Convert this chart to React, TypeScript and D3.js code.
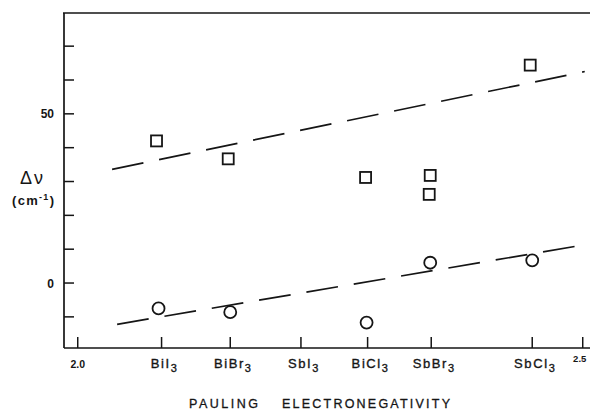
import { useEffect, useRef } from 'react';
import * as d3 from 'd3';

// compounds on the x axis (Pauling electronegativity)
const compounds = ['BiI', 'BiBr', 'SbI', 'BiCl', 'SbBr', 'SbCl'];
const compoundEN = [2.083, 2.151, 2.221, 2.287, 2.35, 2.45];
const numTicks = [2.0, 2.5];
const yTicks = [-10, 0, 10, 20, 30, 40, 50, 60, 70];
const yLabelled = [50, 0];

// squares (upper set)
const squareX = [2.078, 2.149, 2.285, 2.349, 2.348, 2.448];
const squareY = [42.0, 36.7, 31.2, 31.8, 26.2, 64.4];
// circles (lower set)
const circleX = [2.08, 2.151, 2.286, 2.349, 2.45];
const circleY = [-7.5, -8.6, -11.7, 6.0, 6.7];

// dashed fit lines: [x, y] ends
const upperFit: [number, number][] = [[2.034, 33.6], [2.502, 62.5]];
const lowerFit: [number, number][] = [[2.039, -12.2], [2.504, 11.4]];

export default function App() {
    const svgRef = useRef<SVGSVGElement>(null);

    useEffect(() => {
        if (!svgRef.current) return;
        const W = 590;
        const left = 64, right = 590, top = 13, bottom = 348;
        const ink = '#151515';
        const font = '"Liberation Sans", Arial, Helvetica, sans-serif';

        const svg = d3.select(svgRef.current);
        svg.selectAll('*').remove();

        const x = d3.scaleLinear().domain([1.9864, 2.5072]).range([left, right]);
        const y = d3.scaleLinear().domain([-19.2, 79.8]).range([bottom, top]);

        // frame: left axis, top border, bottom axis
        svg.append('line').attr('x1', left).attr('x2', left).attr('y1', top).attr('y2', bottom)
            .attr('stroke', ink).attr('stroke-width', 1.7);
        svg.append('line').attr('x1', left - 1).attr('x2', W).attr('y1', top).attr('y2', top)
            .attr('stroke', ink).attr('stroke-width', 1.7);
        svg.append('line').attr('x1', left).attr('x2', W).attr('y1', bottom).attr('y2', bottom)
            .attr('stroke', ink).attr('stroke-width', 1.7);

        // y ticks (inward)
        svg.selectAll('.ytick').data(yTicks).join('line')
            .attr('class', 'ytick')
            .attr('x1', left).attr('x2', left + 10)
            .attr('y1', d => y(d)).attr('y2', d => y(d))
            .attr('stroke', ink).attr('stroke-width', 1.5);
        svg.selectAll('.ylbl').data(yLabelled).join('text')
            .attr('class', 'ylbl')
            .attr('x', left - 10).attr('y', d => y(d) + 4.5)
            .attr('text-anchor', 'end').attr('font-size', 12).attr('font-weight', 'bold')
            .attr('font-family', font).attr('fill', ink)
            .text(d => d);

        // x ticks (inward)
        const allX = [...numTicks, ...compoundEN];
        svg.selectAll('.xtick').data(allX).join('line')
            .attr('class', 'xtick')
            .attr('x1', d => x(d)).attr('x2', d => x(d))
            .attr('y1', bottom).attr('y2', bottom - 11)
            .attr('stroke', ink).attr('stroke-width', 1.5);

        // compound labels with subscript 3
        const cl = svg.selectAll('.clbl').data(compounds).join('text')
            .attr('class', 'clbl')
            .attr('x', (_, i) => x(compoundEN[i]) + 3).attr('y', 368)
            .attr('text-anchor', 'middle').attr('font-size', 13).attr('letter-spacing', 1.6)
            .attr('font-family', font).attr('fill', ink)
            .attr('stroke', ink).attr('stroke-width', 0.35);
        cl.append('tspan').text(d => d);
        cl.append('tspan').attr('dy', 4).attr('font-size', 11).text('3');

        svg.append('text').attr('x', x(2.0)).attr('y', 368)
            .attr('text-anchor', 'middle').attr('font-size', 10.5).attr('font-weight', 'bold')
            .attr('font-family', font).attr('fill', ink).text('2.0');
        svg.append('text').attr('x', x(2.5) - 3).attr('y', 362)
            .attr('text-anchor', 'middle').attr('font-size', 9.5).attr('font-weight', 'bold')
            .attr('font-family', font).attr('fill', ink).text('2.5');

        // axis titles
        svg.append('text').attr('x', 189).attr('y', 408)
            .attr('font-size', 12.5).attr('font-family', font).attr('fill', ink)
            .attr('stroke', ink).attr('stroke-width', 0.3)
            .attr('textLength', 69).attr('lengthAdjust', 'spacing').text('PAULING');
        svg.append('text').attr('x', 282).attr('y', 408)
            .attr('font-size', 12.5).attr('font-family', font).attr('fill', ink)
            .attr('stroke', ink).attr('stroke-width', 0.3)
            .attr('textLength', 168).attr('lengthAdjust', 'spacing').text('ELECTRONEGATIVITY');

        svg.append('text').attr('x', 20).attr('y', 184)
            .attr('font-size', 18).attr('letter-spacing', 2).attr('font-family', font).attr('fill', ink)
            .text('Δν');
        const cm = svg.append('text').attr('x', 12).attr('y', 205)
            .attr('font-size', 13).attr('font-weight', 'bold').attr('letter-spacing', 1.3)
            .attr('font-family', font).attr('fill', ink);
        cm.append('tspan').text('(cm');
        cm.append('tspan').attr('dy', -5).attr('font-size', 9).text('-1');
        cm.append('tspan').attr('dy', 5).text(')');

        // dashed fit lines
        const line = d3.line<[number, number]>().x(d => x(d[0])).y(d => y(d[1]));
        [upperFit, lowerFit].forEach(fit => {
            svg.append('path').attr('d', line(fit))
                .attr('fill', 'none').attr('stroke', ink).attr('stroke-width', 1.7)
                .attr('stroke-dasharray', '32 16');
        });

        // squares
        const s = 11;
        svg.selectAll('.sq').data(squareY).join('rect')
            .attr('class', 'sq')
            .attr('x', (_, i) => x(squareX[i]) - s / 2).attr('y', d => y(d) - s / 2)
            .attr('width', s).attr('height', s)
            .attr('fill', 'white').attr('stroke', ink).attr('stroke-width', 1.8);

        // circles
        svg.selectAll('.ci').data(circleY).join('circle')
            .attr('class', 'ci')
            .attr('cx', (_, i) => x(circleX[i])).attr('cy', d => y(d)).attr('r', 6)
            .attr('fill', 'none').attr('stroke', ink).attr('stroke-width', 1.8);
    }, []);

    return (
        <svg ref={svgRef} width={590} height={412}
            style={{ position: 'absolute', left: 0, top: 0, background: 'white' }} />
    );
}
